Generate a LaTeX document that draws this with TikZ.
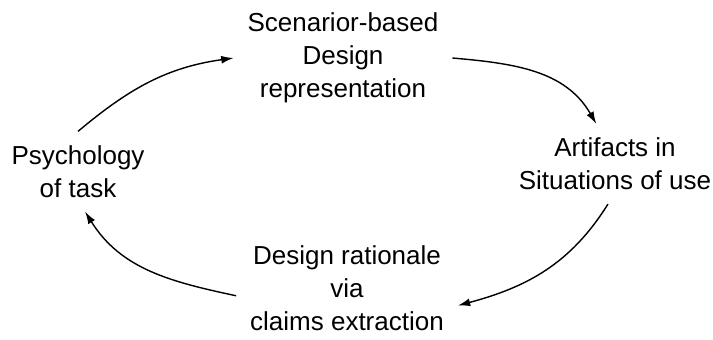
\documentclass[tikz,border=0pt]{standalone}
\usepackage{fontspec}
\setmainfont{Liberation Sans}
\usetikzlibrary{arrows.meta}
\begin{document}
\begin{tikzpicture}[x=0.02cm, y=-0.02cm,
	lbl/.style={align=center, inner sep=0pt, outer sep=8pt, font=\fontsize{14.8}{18.8}\selectfont},
	arr/.style={-{Latex[length=7pt,width=4.5pt]}, line width=0.8pt}]
	\useasboundingbox (0,0) rectangle (713,339);
	\node[lbl] (scen) at (343,58) {Scenarior-based\\Design\\representation};
	\node[lbl] (art) at (615,164) {Artifacts in\\Situations of use};
	\node[lbl] (rat) at (347,288) {Design rationale\\via\\claims extraction};
	\node[lbl] (psych) at (78,171.5) {Psychology\\of task};

	\draw[arr] (psych.north) to[out=40, in=188] (scen.west);
	\draw[arr] (scen.east) to[out=-5, in=120] (art.115);
	\draw[arr] (art.260) to[out=238, in=15] (rat.351);
	\draw[arr] (rat.184) to[out=168, in=302] (psych.280);
\end{tikzpicture}
\end{document}
